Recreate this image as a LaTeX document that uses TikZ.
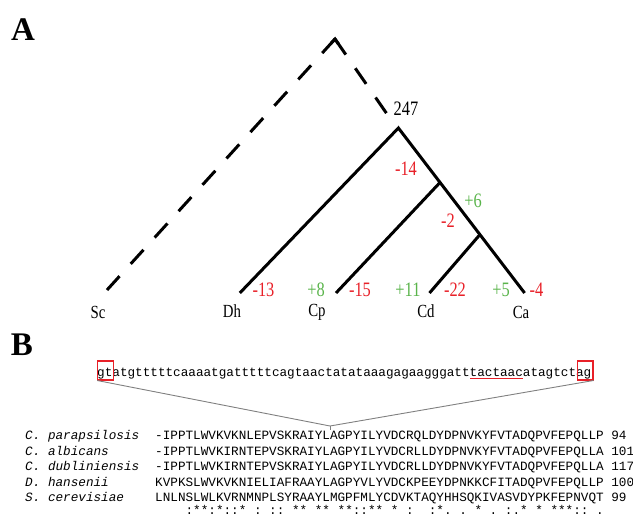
\documentclass[tikz,border=0pt]{standalone}
\usepackage{fontspec}
\setmainfont{Liberation Serif}
\setmonofont{Liberation Mono}
\newfontfamily\treefont[FakeStretch=0.8]{Liberation Serif}
\usetikzlibrary{calc}
\definecolor{lblred}{RGB}{232,32,40}
\definecolor{lblgreen}{RGB}{90,180,75}
\definecolor{linegray}{RGB}{128,128,128}
\begin{document}
\begin{tikzpicture}[x=1pt,y=-1pt,
  branch/.style={line width=3pt, line join=miter},
  dashbranch/.style={line width=3pt, dash pattern=on 19pt off 16.6pt},
  numlbl/.style={inner sep=0pt, font=\treefont\fontsize{20.5}{20.5}\selectfont},
  losslbl/.style={numlbl, text=lblred},
  gainlbl/.style={numlbl, text=lblgreen},
  taxon/.style={inner sep=0pt, font=\treefont\fontsize{18.5}{18.5}\selectfont},
  panel/.style={inner sep=0pt, font=\bfseries\fontsize{33}{33}\selectfont},
  seqtext/.style={inner sep=0pt, anchor=base west, font=\ttfamily\fontsize{12.67}{12.67}\selectfont},
  spname/.style={inner sep=0pt, anchor=base west, font=\ttfamily\itshape\fontsize{12.67}{12.67}\selectfont},
  redbox/.style={draw=lblred, line width=1.2pt, inner sep=0pt, minimum width=15.6pt, minimum height=19pt},
  connector/.style={draw=linegray, line width=0.9pt}]
\useasboundingbox (0,0) rectangle (633,515);

% ---------- Panel A ----------
\node[panel] (labA) at (23,30) {A};

\coordinate (apex) at (335,39);
\coordinate (scend) at (107,290);
\coordinate (dashend) at (387,114);
\draw[dashbranch] (apex) -- (scend);
\draw[dashbranch] (apex) -- (dashend);
\draw[branch] ($(apex)!6pt!(scend)$) -- (apex) -- ($(apex)!6pt!(dashend)$);

\coordinate (root) at (398.4,128);
\coordinate (dh) at (239.8,293);
\coordinate (cp) at (336,293);
\coordinate (cd) at (429.5,293);
\coordinate (ca) at (524.6,293);
\coordinate (n1) at ($(root)!0.33!(ca)$);
\coordinate (n2) at ($(root)!0.646!(ca)$);
\draw[branch] (dh) -- (root) -- (ca);
\draw[branch] (cp) -- (n1);
\draw[branch] (cd) -- (n2);

\node[numlbl] (l247) at (406,108.5) {247};
\node[losslbl] (l14) at (406,169) {-14};
\node[gainlbl] (l6) at (473,201) {+6};
\node[losslbl] (l2) at (448,221) {-2};
\node[losslbl] (l13) at (263.5,290) {-13};
\node[gainlbl] (l8) at (316,290) {+8};
\node[losslbl] (l15) at (360,290) {-15};
\node[gainlbl] (l11) at (408,290) {+11};
\node[losslbl] (l22) at (455,290) {-22};
\node[gainlbl] (l5) at (501,290) {+5};
\node[losslbl] (l4) at (536.5,290) {-4};

\node[taxon] (tSc) at (98,312) {Sc};
\node[taxon] (tDh) at (232,311) {Dh};
\node[taxon] (tCp) at (317,312) {Cp};
\node[taxon] (tCd) at (426,311) {Cd};
\node[taxon] (tCa) at (521,312) {Ca};

% ---------- Panel B ----------
\node[panel] (labB) at (22,345) {B};

\node[seqtext] (dna) at (97,376) {gtatgtttttcaaaatgatttttcagtaactatataaagagaagggatttactaacatagtctag};
\node[redbox, anchor=south west] (gtbox) at (97.2,380.5) {};
\node[redbox, anchor=south east] (agbox) at (593.5,380.5) {};
\coordinate (ul1) at (470,378.5);
\coordinate (ul2) at (522.5,378.5);
\draw[draw=lblred, line width=1pt] (ul1) -- (ul2);

\coordinate (join) at (330,426);
\coordinate (tickend) at (330,429.5);
\draw[connector] (gtbox.south west) -- (join) -- (agbox.south east);
\draw[connector] (join) -- (tickend);

\node[spname] (n1name) at (25,439.5) {C. parapsilosis};
\node[spname] (n2name) at (25,455) {C. albicans};
\node[spname] (n3name) at (25,470.5) {C. dubliniensis};
\node[spname] (n4name) at (25,486) {D. hansenii};
\node[spname] (n5name) at (25,501.5) {S. cerevisiae};

\node[seqtext] (s1) at (155,439.5) {-IPPTLWVKVKNLEPVSKRAIYLAGPYILYVDCRQLDYDPNVKYFVTADQPVFEPQLLP 94};
\node[seqtext] (s2) at (155,455) {-IPPTLWVKIRNTEPVSKRAIYLAGPYILYVDCRLLDYDPNVKYFVTADQPVFEPQLLA 101};
\node[seqtext] (s3) at (155,470.5) {-IPPTLWVKIRNTEPVSKRAIYLAGPYILYVDCRLLDYDPNVKYFVTADQPVFEPQLLA 117};
\node[seqtext] (s4) at (155,486) {KVPKSLWVKVKNIELIAFRAAYLAGPYVLYVDCKPEEYDPNKKCFITADQPVFEPQLLP 100};
\node[seqtext] (s5) at (155,501.5) {LNLNSLWLKVRNMNPLSYRAAYLMGPFMLYCDVKTAQYHHSQKIVASVDYPKFEPNVQT 99};
\node[seqtext] (cons) at (155,514) {~~~~:**:*::*~:~::~**~**~**::**~*~:~~:*.~.~*~.~:.*~*~***::~.};
\end{tikzpicture}
\end{document}
